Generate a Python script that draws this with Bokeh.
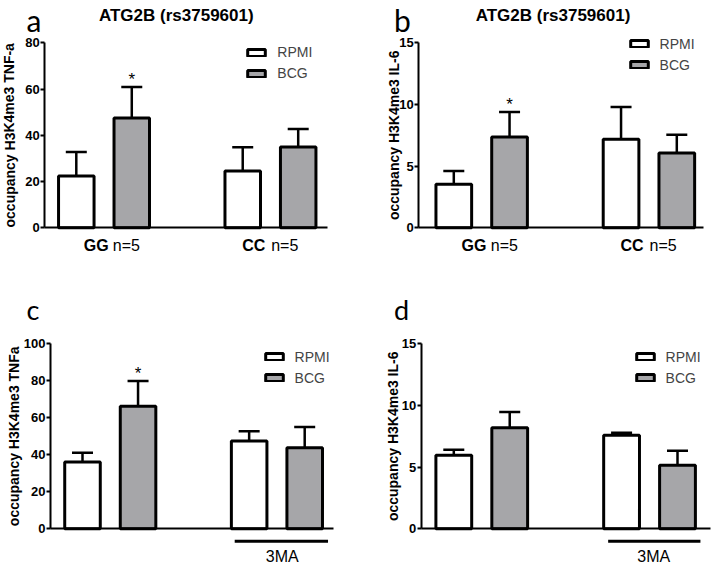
from bokeh.plotting import figure
from bokeh.models import (Range1d, FixedTicker, Label, Legend, LegendItem,
                          ColumnDataSource, Whisker, TeeHead, Arrow)
from bokeh.layouts import gridplot
from bokeh.embed import file_html
from bokeh.resources import INLINE
from bokeh.core.properties import value

# ---------------- data ----------------
series_names = ["RPMI", "BCG"]
pos_rpmi = [1, 4]
pos_bcg = [2, 5]

groups_ab = ["GG", "CC"]
group_n = "n=5"
treat_label = "3MA"
title_ab = "ATG2B (rs3759601)"
panel_letters = ["a", "b", "c", "d"]
ylabels = ["occupancy H3K4me3 TNF-a", "occupancy H3K4me3 IL-6",
           "occupancy H3K4me3 TNFa", "occupancy H3K4me3 IL-6"]

a_rpmi = [22.4, 24.6]
a_rpmi_err = [10.4, 10.2]
a_bcg = [47.5, 34.9]
a_bcg_err = [13.4, 7.8]
a_stars = ["*", ""]

b_rpmi = [3.53, 7.18]
b_rpmi_err = [1.08, 2.61]
b_bcg = [7.36, 6.06]
b_bcg_err = [2.03, 1.49]
b_stars = ["*", ""]

c_rpmi = [36.1, 47.5]
c_rpmi_err = [5.0, 5.2]
c_bcg = [66.2, 43.8]
c_bcg_err = [13.7, 11.2]
c_stars = ["*", ""]

d_rpmi = [5.96, 7.58]
d_rpmi_err = [0.45, 0.21]
d_bcg = [8.20, 5.15]
d_bcg_err = [1.27, 1.18]
d_stars = ["", ""]

ticks_a = [0, 20, 40, 60, 80]
ticks_b = [0, 5, 10, 15]
ticks_c = [0, 20, 40, 60, 80, 100]
ticks_d = [0, 5, 10, 15]

GRAY = "#a6a6a9"
FONT = "Liberation Sans"
LFONT = "Lato"


def make_panel(W, H, c1, u, y0, ytop, ymax, ax_x, ax_end, ticks,
               rpmi, rpmi_err, bcg, bcg_err, stars, ylabel, letter,
               letter_pos, letter_size, ylabel_x, legend_box):
    # layout helpers: local pixel -> data coordinate
    def X(px):
        return 1 + (px - c1) / u

    def Y(py):
        return ymax * (y0 - py) / (y0 - ytop)

    ppu_y = (y0 - ytop) / ymax

    p = figure(width=W, height=H, x_range=Range1d(X(0), X(W)), y_range=Range1d(Y(H), Y(0)),
               min_border_left=0, min_border_right=0, min_border_top=0, min_border_bottom=0,
               output_backend="svg", toolbar_location=None, title=None)
    p.outline_line_color = None
    p.grid.visible = False
    p.background_fill_color = "white"
    p.border_fill_color = "white"

    # axes
    ya = p.yaxis[0]
    ya.fixed_location = X(ax_x)
    ya.bounds = (0, ymax)
    ya.ticker = FixedTicker(ticks=ticks)
    ya.axis_line_width = 2
    ya.major_tick_line_width = 2
    ya.major_tick_out = 4
    ya.major_tick_in = 0
    ya.minor_tick_line_color = None
    ya.major_label_standoff = 1
    ya.major_label_text_font = FONT
    ya.major_label_text_font_style = "bold"
    ya.major_label_text_font_size = "13px"
    ya.major_label_text_color = "black"

    xa = p.xaxis[0]
    xa.fixed_location = 0
    xa.bounds = (X(ax_x), X(ax_end))
    xa.ticker = FixedTicker(ticks=[])
    xa.axis_line_width = 2
    xa.major_tick_line_color = None
    xa.minor_tick_line_color = None
    xa.major_label_text_font_size = "0px"

    # error bars (upper only)
    for pos, vals, errs in ((pos_rpmi, rpmi, rpmi_err), (pos_bcg, bcg, bcg_err)):
        src = ColumnDataSource(dict(x=pos, lo=vals, hi=[v + e for v, e in zip(vals, errs)]))
        w = Whisker(source=src, base="x", lower="lo", upper="hi", dimension="height",
                    line_width=2.5, line_color="black", lower_head=None,
                    upper_head=TeeHead(size=21, line_width=2.5, line_color="black"))
        p.add_layout(w)

    r1 = p.vbar(x=pos_rpmi, top=rpmi, width=0.64, bottom=0, fill_color="white",
                line_color="black", line_width=3)
    r2 = p.vbar(x=pos_bcg, top=bcg, width=0.64, bottom=0, fill_color=GRAY,
                line_color="black", line_width=3)

    # significance stars
    star_src = ColumnDataSource(dict(x=pos_bcg, y=[v + e + 7 / ppu_y for v, e in zip(bcg, bcg_err)],
                                     t=stars))
    p.text(x="x", y="y", text="t", source=star_src, text_align="center",
           text_baseline="middle", text_font=value(FONT), text_font_size="17px",
           text_color="black")

    # legend
    bx, by = legend_box  # outer left of box, centre of first row (local px)
    gw, gh = 22, 9
    item_h, spacing = 18, 3
    leg_h = 2 * item_h + spacing
    top_rel = by - item_h / 2
    legend = Legend(items=[LegendItem(label=series_names[0], renderers=[r1]),
                           LegendItem(label=series_names[1], renderers=[r2])],
                    location=(bx + 1.5 - 0.1 * gw, H - top_rel - leg_h),
                    orientation="vertical", padding=0, margin=0, spacing=spacing,
                    glyph_width=gw, glyph_height=gh, label_height=item_h,
                    label_standoff=10, label_text_font=FONT, label_text_font_size="14px",
                    border_line_color=None, background_fill_alpha=0)
    p.add_layout(legend)

    # y label
    p.add_layout(Label(x=X(ylabel_x), y=Y((y0 + ytop) / 2), text=ylabel, angle=1.5708,
                       text_align="center", text_baseline="middle", text_font=FONT,
                       text_font_style="bold", text_font_size="14px", text_color="black"))
    # panel letter
    p.add_layout(Label(x=X(letter_pos[0]), y=Y(letter_pos[1]), text=letter,
                       text_align="left", text_baseline="middle", text_font=LFONT,
                       text_font_size=letter_size, text_color="black"))
    return p, X, Y


def add_text(p, X, Y, x, y, text, size="16px", style="normal", align="left",
             baseline="middle"):
    p.add_layout(Label(x=X(x), y=Y(y), text=text, text_align=align, text_baseline=baseline,
                       text_font=FONT, text_font_style=style, text_font_size=size,
                       text_color="black"))


H1, H2 = 280, 287
WL, WR = 360, 351

# panel a  (local = ref)
pa, Xa, Ya = make_panel(WL, H1, 75.8, 55.475, 227.3, 42.3, 80, 44.3, 327, ticks_a,
                        a_rpmi, a_rpmi_err, a_bcg, a_bcg_err, a_stars, ylabels[0], panel_letters[0],
                        (26.0, 19.5), "30px", 9, (246, 52))
add_text(pa, Xa, Ya, 175.8, 14.5, title_ab, size="17px", style="bold", align="center")
add_text(pa, Xa, Ya, 83.3, 244.5, groups_ab[0], style="bold")
add_text(pa, Xa, Ya, 112.3, 244.5, group_n)
add_text(pa, Xa, Ya, 241.7, 244.5, groups_ab[1], style="bold")
add_text(pa, Xa, Ya, 270.7, 244.5, group_n)

# panel b  (local = ref - (360, 0))
pb, Xb, Yb = make_panel(WR, H1, 93.3, 55.75, 227.3, 42.3, 15, 58.3, 343, ticks_b,
                        b_rpmi, b_rpmi_err, b_bcg, b_bcg_err, b_stars, ylabels[1], panel_letters[1],
                        (33.5, 19.5), "30px", 33.3, (268.3, 43.8))
add_text(pb, Xb, Yb, 192.5, 14.5, title_ab, size="17px", style="bold", align="center")
add_text(pb, Xb, Yb, 101, 244.5, groups_ab[0], style="bold")
add_text(pb, Xb, Yb, 130.3, 244.5, group_n)
add_text(pb, Xb, Yb, 260, 244.5, groups_ab[1], style="bold")
add_text(pb, Xb, Yb, 289, 244.5, group_n)

# panel c  (local = ref - (0, 280))
pc, Xc, Yc = make_panel(WL, H2, 82, 55.55, 248.3, 63.3, 100, 50, 332.7, ticks_c,
                        c_rpmi, c_rpmi_err, c_bcg, c_bcg_err, c_stars, ylabels[2], panel_letters[2],
                        (26.0, 28.5), "27px", 13.3, (263.3, 76.7))
pc.add_layout(Arrow(x_start=pos_rpmi[1] - 0.26, x_end=pos_bcg[1] + 0.42,
                    y_start=Yc(260.7), y_end=Yc(260.7), start=None, end=None,
                    line_width=3, line_color="black"))
add_text(pc, Xc, Yc, 281.7, 275.5, treat_label, align="center")

# panel d  (local = ref - (360, 280))
pd_, Xd, Yd = make_panel(WR, H2, 93.3, 55.925, 248.3, 63.3, 15, 60.7, 350, ticks_d,
                         d_rpmi, d_rpmi_err, d_bcg, d_bcg_err, d_stars, ylabels[3], panel_letters[3],
                         (33.5, 28.5), "27px", 32.5, (274.3, 76.7))
pd_.add_layout(Arrow(x_start=pos_rpmi[1] - 0.24, x_end=pos_bcg[1] + 0.41,
                     y_start=Yd(260.7), y_end=Yd(260.7), start=None, end=None,
                     line_width=3, line_color="black"))
add_text(pd_, Xd, Yd, 293.3, 275.5, treat_label, align="center")

grid = gridplot([[pa, pb], [pc, pd_]], toolbar_location=None)
open("out.html", "w").write(file_html(grid, INLINE))
